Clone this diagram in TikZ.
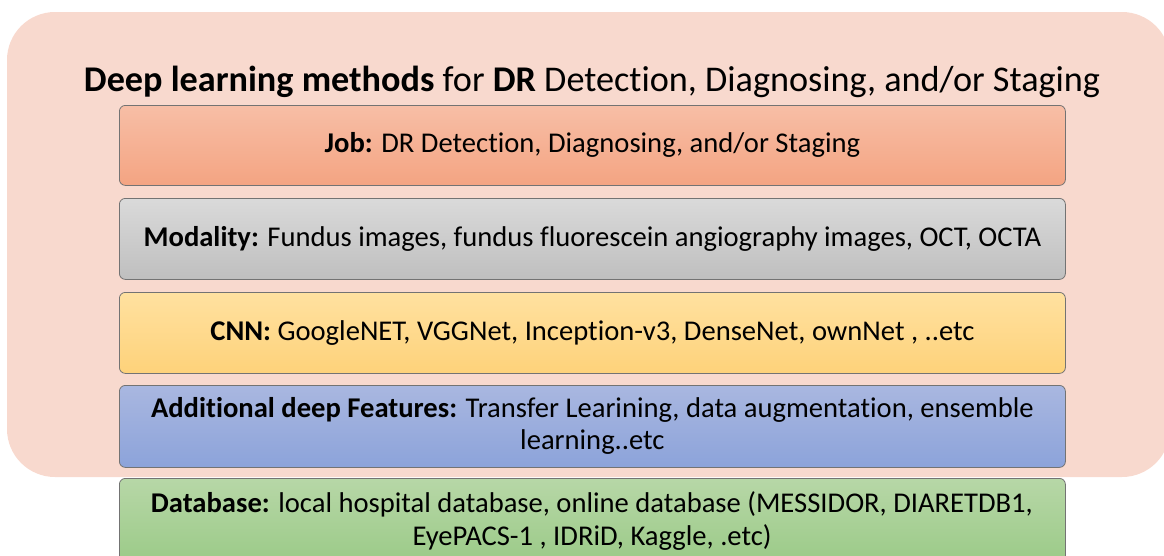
\documentclass[tikz,border=0pt]{standalone}
\usepackage{fontspec}
\setmainfont{Carlito}[Ligatures=NoCommon]
\definecolor{bgpeach}{HTML}{F8D9CE}
\begin{document}
\begin{tikzpicture}[x=1pt,y=-1pt,
  layer/.style={draw=black!55, line width=0.8pt, rounded corners=6pt, anchor=north west,
    minimum width=946pt, inner sep=0pt, align=center, font=\fontsize{28.6}{32}\selectfont},
  ]
\useasboundingbox (0,0) rectangle (1164,555);
\begin{scope}
\clip (0,0) rectangle (1164,555);
\fill[bgpeach, rounded corners=48pt] (7,12) rectangle (1170,477);
\end{scope}
\node[font=\fontsize{36.2}{40}\selectfont, anchor=base] (title) at (592,91)
  {\textbf{Deep learning methods} for \textbf{DR} Detection, Diagnosing, and/or Staging};
\node[layer, minimum height=80pt, top color={rgb,255:red,247;green,190;blue,166}, bottom color={rgb,255:red,244;green,164;blue,130}] (job) at (119,105)
  {\textbf{Job:} DR Detection, Diagnosing, and/or Staging};
\node[layer, minimum height=81pt, top color={rgb,255:red,218;green,218;blue,218}, bottom color={rgb,255:red,191;green,191;blue,191}] (mod) at (119,198)
  {\textbf{Modality:} Fundus images, fundus fluorescein angiography images, OCT, OCTA};
\node[layer, minimum height=81pt, top color={rgb,255:red,255;green,225;blue,160}, bottom color={rgb,255:red,254;green,210;blue,122}] (cnn) at (119,292)
  {\textbf{CNN:} GoogleNET, VGGNet, Inception-v3, DenseNet, ownNet , ..etc};
\node[layer, minimum height=82pt, top color={rgb,255:red,169;green,183;blue,224}, bottom color={rgb,255:red,140;green,163;blue,218}] (add) at (119,385)
  {\textbf{Additional deep Features:} Transfer Learining, data augmentation, ensemble\\learning..etc};
\node[layer, minimum height=100pt, top color={rgb,255:red,183;green,215;blue,167}, bottom color={rgb,255:red,150;green,200;blue,130}] (db) at (119,478) {};
\node[align=center, inner sep=0pt, font=\fontsize{28.6}{33}\selectfont, anchor=base] (dbtext) at (592,545)
  {\textbf{Database:} local hospital database, online database (MESSIDOR, DIARETDB1,\\EyePACS-1 , IDRiD, Kaggle, .etc)};
\end{tikzpicture}
\end{document}
